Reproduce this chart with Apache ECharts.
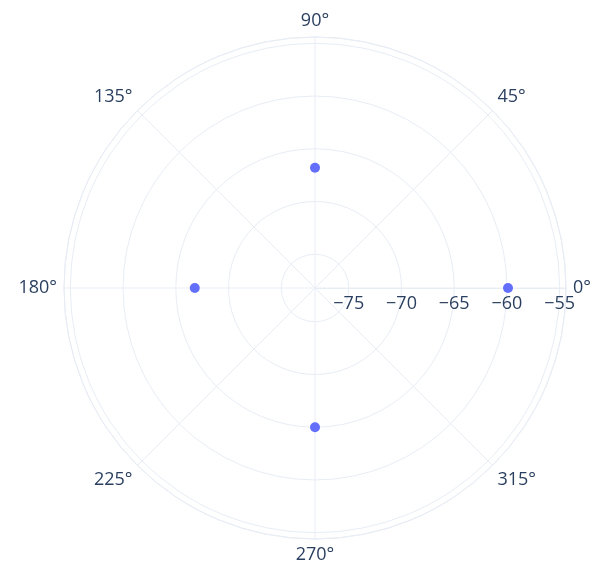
<!DOCTYPE html>
<html><head><meta charset="utf-8">
<script src="https://cdn.jsdelivr.net/npm/echarts@6/dist/echarts.min.js"></script>
<style>html,body{margin:0;padding:0;background:#fff}#c{width:603px;height:573px}</style>
</head><body><div id="c"></div>
<script>
const angles = [0, 90, 180, 270];
const radii = [-59.9, -66.8, -66.8, -65];
const radialMin = -78.2, radialMax = -54.4;

const fmtR = v => (Math.abs(v % 5) < 1e-6) ? (v < 0 ? '\u2212' + Math.abs(v) : String(v)) : '';
const grid = '#e8edf5';
const chart = echarts.init(document.getElementById('c'));
chart.setOption({
  backgroundColor: '#fff',
  textStyle: {fontFamily: 'Open Sans'},
  polar: {center: [315, 288], radius: 251},
  angleAxis: {
    type: 'value', min: 0, max: 360, interval: 45, startAngle: 0, clockwise: false,
    axisLine: {lineStyle: {color: grid, width: 1}},
    axisTick: {show: false},
    splitLine: {lineStyle: {color: grid, width: 1}},
    axisLabel: {color: '#2a3f5f', fontSize: 18, margin: 7, formatter: v => v + '°'}
  },
  radiusAxis: {
    type: 'value', min: radialMin, max: radialMax,
    axisLine: {lineStyle: {color: grid}},
    axisTick: {show: false},
    splitLine: {lineStyle: {color: grid, width: 1}},
    axisLabel: {color: '#2a3f5f', fontSize: 18, margin: -7, verticalAlign: 'top',
      formatter: fmtR, showMinLabel: false, showMaxLabel: false}
  },
  series: [{
    type: 'scatter', coordinateSystem: 'polar', symbolSize: 10,
    itemStyle: {color: '#636efa', opacity: 1},
    data: radii.map((r, i) => [r, angles[i]])
  }]
});
</script></body></html>
